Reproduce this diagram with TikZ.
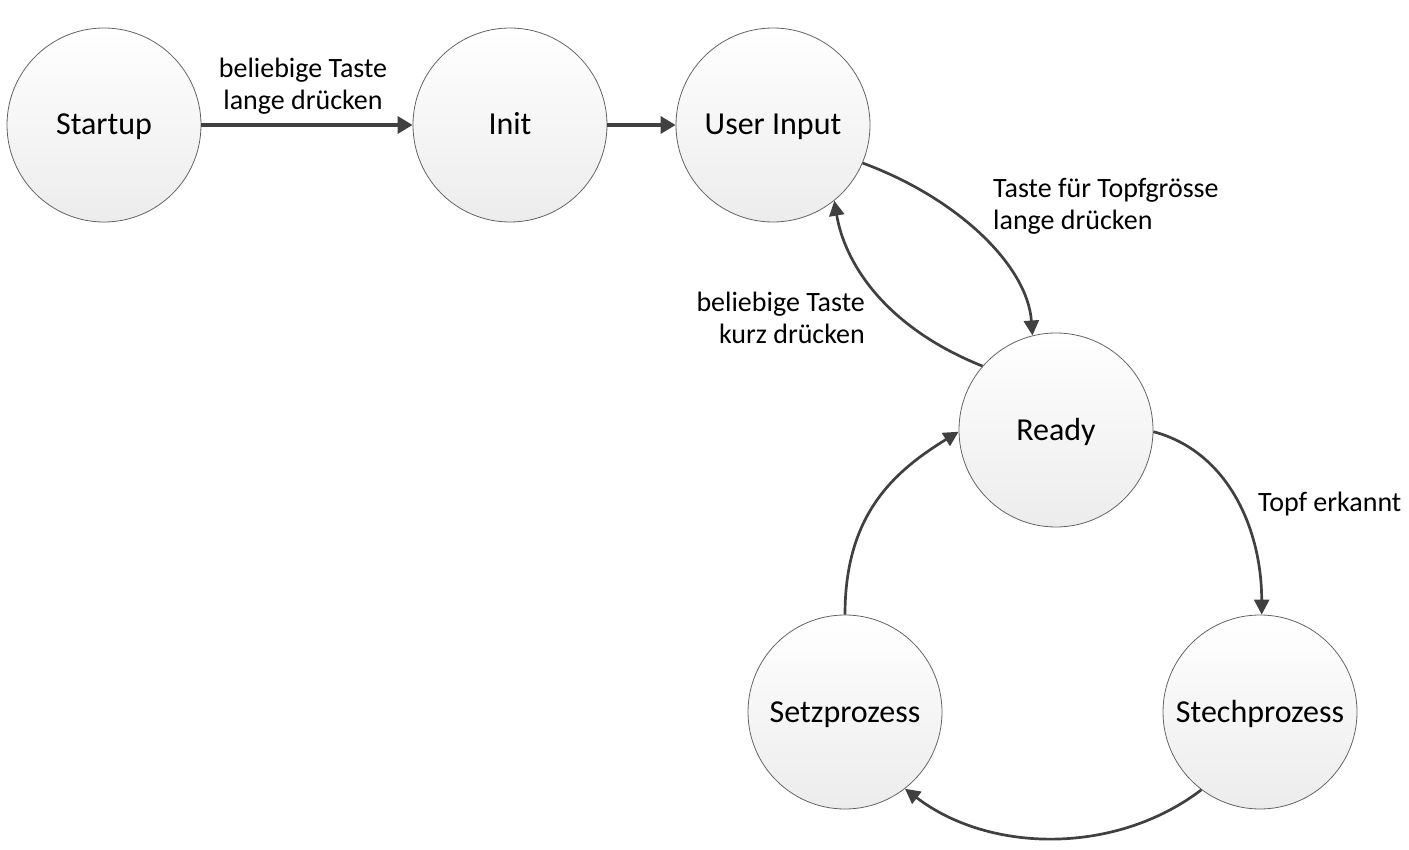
\documentclass[tikz,border=0pt]{standalone}
\usepackage{fontspec}
\setmainfont{Carlito}
\usetikzlibrary{arrows.meta}
\definecolor{edgec}{RGB}{64,64,64}
\definecolor{ringc}{RGB}{100,100,100}
\definecolor{fillbot}{RGB}{236,236,236}
\begin{document}
\begin{tikzpicture}[x=1pt,y=-1pt,
  state/.style={circle,minimum size=194pt,inner sep=0pt,draw=ringc,line width=0.8pt,
    top color=white,bottom color=fillbot,font=\fontsize{32}{36}\selectfont,
    text height=24pt,text depth=4pt},
  conn/.style={draw=edgec,line width=3.4pt,-{Triangle[length=15pt,width=17pt]}},
  curv/.style={draw=edgec,line width=2.7pt,-{Triangle[length=15pt,width=15pt]}},
  lbl/.style={font=\fontsize{28}{32}\selectfont,inner sep=0pt}]
\useasboundingbox (0,0) rectangle (1409,850);
\node[state] (startup) at (104,125) {Startup};
\node[state] (init) at (510,125) {Init};
\node[state] (ui) at (773,125) {User Input};
\node[state] (ready) at (1056,430) {Ready};
\node[state] (setz) at (845,712) {Setzprozess};
\node[state] (stech) at (1260,712) {Stechprozess};

\draw[conn] (startup) -- (init);
\draw[conn] (init) -- (ui);
\draw[curv] (ui.-23) .. controls +(95,35) and +(-5,-70) .. (ready.104);
\draw[curv] (ready.139.5) .. controls +(-100,-40) and +(10,60) .. (ui.-51);
\draw[curv] (ready.-1) .. controls +(75,20) and +(0,-85) .. (stech.89);
\draw[curv] (stech.-127) .. controls +(-85,65) and +(85,65) .. (setz.-52);
\draw[curv] (setz.north) .. controls +(0,-100) and +(-65,40) .. (ready.181);

\node[lbl,align=center] (l1) at (303,86) {beliebige Taste\\lange drücken};
\node[lbl,align=left,anchor=west] (l2) at (993,206) {Taste für Topfgrösse\\lange drücken};
\node[lbl,align=right,anchor=east] (l3) at (865,318) {beliebige Taste\\kurz drücken};
\node[lbl,anchor=west] (l4) at (1258,504) {Topf erkannt};
\end{tikzpicture}
\end{document}
